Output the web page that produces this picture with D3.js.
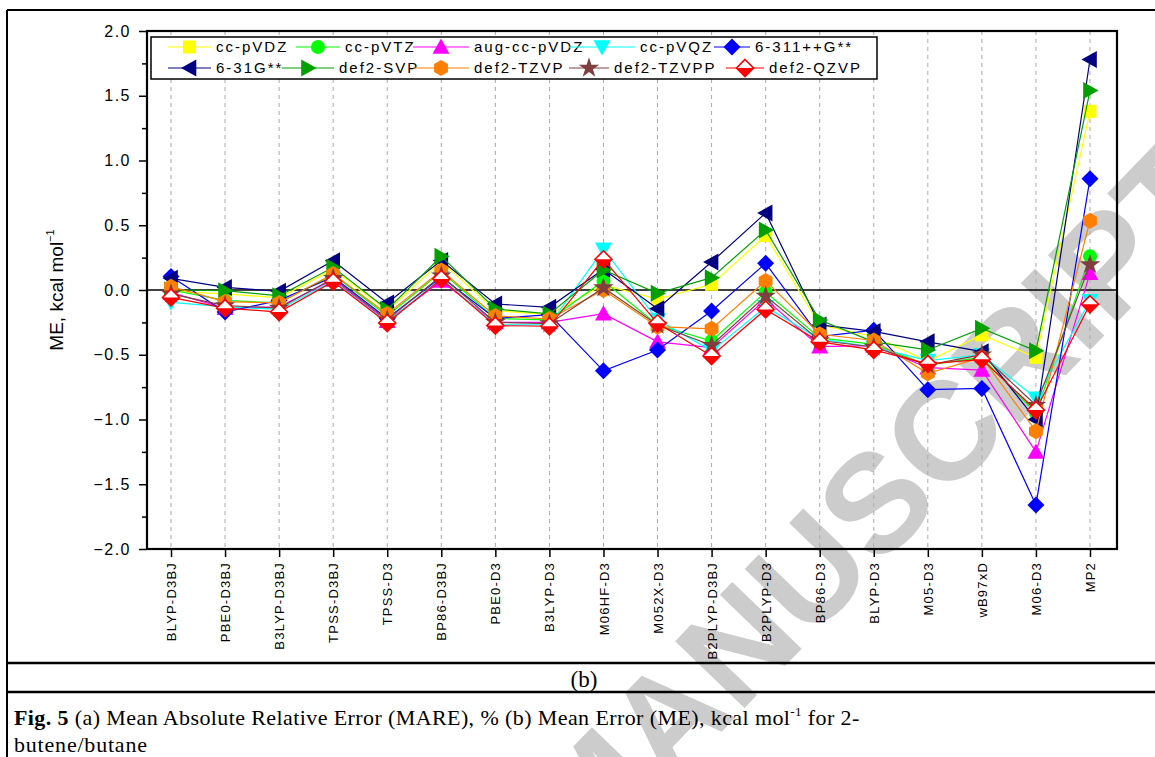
<!DOCTYPE html>
<html><head><meta charset="utf-8">
<script src="https://cdn.jsdelivr.net/npm/d3@7"></script>
<style>body{margin:0;background:#fff}svg{display:block}</style>
</head><body>
<svg id="c" width="1155" height="757"></svg>
<script>
// ---------------- DATA ----------------
const categories = ["BLYP-D3BJ","PBE0-D3BJ","B3LYP-D3BJ","TPSS-D3BJ","TPSS-D3","BP86-D3BJ","PBE0-D3","B3LYP-D3","M06HF-D3","M052X-D3","B2PLYP-D3BJ","B2PLYP-D3","BP86-D3","BLYP-D3","M05-D3","wB97xD","M06-D3","MP2"];
const seriesNames = ["cc-pVDZ","cc-pVTZ","aug-cc-pVDZ","cc-pVQZ","6-311++G**","6-31G**","def2-SVP","def2-TZVP","def2-TZVPP","def2-QZVP"];
const ccpVDZ    = [-0.01,-0.03,-0.06,0.16,-0.16,0.22,-0.16,-0.19,0.04,-0.07,0.044,0.42,-0.27,-0.36,-0.55,-0.347,-0.52,1.38];
const ccpVTZ    = [0.00,-0.08,-0.10,0.12,-0.20,0.14,-0.22,-0.23,0.07,-0.27,-0.394,-0.015,-0.37,-0.42,-0.58,-0.52,-0.95,0.26];
const augccpVDZ = [-0.02,-0.14,-0.13,0.08,-0.24,0.07,-0.25,-0.25,-0.183,-0.40,-0.445,-0.072,-0.437,-0.43,-0.60,-0.618,-1.25,0.13];
const ccpVQZ    = [-0.095,-0.13,-0.15,0.07,-0.25,0.09,-0.27,-0.27,0.314,-0.23,-0.47,-0.13,-0.38,-0.44,-0.545,-0.50,-0.836,-0.083];
const g6311     = [0.105,-0.17,-0.08,0.10,-0.22,0.10,-0.22,-0.19,-0.624,-0.463,-0.162,0.206,-0.36,-0.31,-0.77,-0.76,-1.66,0.86];
const g631      = [0.09,0.02,-0.01,0.226,-0.10,0.227,-0.108,-0.134,0.16,-0.144,0.216,0.595,-0.27,-0.32,-0.40,-0.476,-1.00,1.78];
const def2SVP   = [0.00,-0.005,-0.045,0.175,-0.15,0.26,-0.147,-0.185,0.154,-0.026,0.095,0.463,-0.232,-0.40,-0.463,-0.296,-0.47,1.54];
const def2TZVP  = [0.026,-0.09,-0.10,0.124,-0.185,0.15,-0.20,-0.224,0.00,-0.283,-0.30,0.07,-0.342,-0.39,-0.643,-0.52,-1.09,0.535];
const def2TZVPP = [-0.03,-0.12,-0.14,0.09,-0.23,0.11,-0.25,-0.26,0.018,-0.27,-0.427,-0.046,-0.39,-0.44,-0.58,-0.50,-0.89,0.196];
const def2QZVP  = [-0.057,-0.14,-0.17,0.064,-0.255,0.085,-0.275,-0.28,0.237,-0.257,-0.51,-0.15,-0.40,-0.463,-0.57,-0.535,-0.927,-0.11];
const yTicks = [-2.0,-1.5,-1.0,-0.5,0.0,0.5,1.0,1.5,2.0];
const yMinorTicks = [-1.75,-1.25,-0.75,-0.25,0.25,0.75,1.25,1.75];

// ---------------- STYLE ----------------
const values = [ccpVDZ,ccpVTZ,augccpVDZ,ccpVQZ,g6311,g631,def2SVP,def2TZVP,def2TZVPP,def2QZVP];
const colors = ["#ffff00","#00ff00","#ff00ff","#00ffff","#0000ff","#000080","#00a000","#ff8000","#7f3f3f","#ff0000"];
const shapes = ["square","circle","up","down","diamond","left","right","hex","star","halfdiamond"];
const series = seriesNames.map((n,i)=>({name:n,vals:values[i],color:colors[i],shape:shapes[i]}));

const svg = d3.select("#c");
const L=147,R=1117,T=31,B=549;
const x = d3.scalePoint().domain(categories).range([171,1090]);
const y = d3.scaleLinear().domain([-2,2]).range([B,T]);

svg.append("rect").attr("width",1155).attr("height",757).attr("fill","#fff");

// watermark (clipped to the page)
svg.append("clipPath").attr("id","pg").append("rect").attr("width",1155).attr("height",757);
svg.append("g").attr("clip-path","url(#pg)").append("text").text("ACCEPTED MANUSCRIPT")
  .attr("transform","translate(1235,200) rotate(-46)")
  .attr("text-anchor","end").attr("font-family","Liberation Sans, Arial, sans-serif")
  .attr("font-weight","bold").attr("font-size",140).attr("fill","#cccccc");

// outer borders
const bd = svg.append("g").attr("stroke","#000").attr("stroke-width",2);
bd.append("line").attr("x1",7).attr("x2",7).attr("y1",10).attr("y2",757);
bd.append("line").attr("x1",7).attr("x2",1155).attr("y1",10).attr("y2",10);
bd.append("line").attr("x1",7).attr("x2",1155).attr("y1",663).attr("y2",663).attr("stroke-width",2.5);
bd.append("line").attr("x1",7).attr("x2",1155).attr("y1",692).attr("y2",692).attr("stroke-width",2.5);

// gridlines
svg.append("g").selectAll("line").data(categories).join("line")
  .attr("x1",d=>x(d)).attr("x2",d=>x(d)).attr("y1",T).attr("y2",B)
  .attr("stroke","#aaa").attr("stroke-width",1).attr("stroke-dasharray","4,4");

// zero line
svg.append("line").attr("x1",L).attr("x2",R).attr("y1",y(0)).attr("y2",y(0)).attr("stroke","#000").attr("stroke-width",1.6);

// axes
const yAx = svg.append("g").attr("transform",`translate(${L},0)`)
  .call(d3.axisLeft(y).tickValues(yTicks).tickSize(8).tickPadding(8).tickFormat(d=>d3.format(".1f")(d).replace("-","\u2212")));
yAx.select(".domain").remove();
yAx.selectAll("line").attr("stroke-width",1.5);
yAx.selectAll("text").attr("font-family","Liberation Sans, Arial, sans-serif").attr("font-size",16).attr("letter-spacing","1.5px").attr("fill","#000");
const yMin = svg.append("g").attr("transform",`translate(${L},0)`)
  .call(d3.axisLeft(y).tickValues(yMinorTicks).tickSize(5).tickFormat(""));
yMin.select(".domain").remove();
yMin.selectAll("line").attr("stroke-width",1.5);

const xAx = svg.append("g").attr("transform",`translate(0,${B})`)
  .call(d3.axisBottom(x).tickSize(8).tickPadding(4));
xAx.select(".domain").remove();
xAx.selectAll("line").attr("stroke-width",1.5);
xAx.selectAll("text").attr("font-family","Liberation Sans, Arial, sans-serif").attr("font-size",13)
  .attr("letter-spacing","1.2px").attr("fill","#000")
  .attr("text-anchor","end").attr("transform","rotate(-90)").attr("x",-13).attr("y",0).attr("dy","0.35em");

svg.append("rect").attr("x",L).attr("y",T).attr("width",R-L).attr("height",B-T)
  .attr("fill","none").attr("stroke","#000").attr("stroke-width",2.2);

// y title
const yt = svg.append("text").attr("transform",`translate(63,${y(0)}) rotate(-90)`).attr("text-anchor","middle")
  .attr("font-family","Liberation Sans, Arial, sans-serif").attr("font-size",19).attr("fill","#000");
yt.append("tspan").text("ME, kcal mol");
yt.append("tspan").text("\u22121").attr("font-size",11).attr("dy",-9);

// marker drawing
function hexPath(r){const p=[];for(let k=0;k<6;k++){const a=Math.PI/3*k+Math.PI/6;p.push([r*Math.cos(a),r*Math.sin(a)]);}return "M"+p.map(q=>q.join(",")).join("L")+"Z";}
function triPath(dir,s){
  if(dir==="up") return `M0,${-s}L${s},${s*0.8}L${-s},${s*0.8}Z`;
  if(dir==="down") return `M0,${s}L${s},${-s*0.8}L${-s},${-s*0.8}Z`;
  if(dir==="left") return `M${-s},0L${s*0.8},${-s}L${s*0.8},${s}Z`;
  return `M${s},0L${-s*0.8},${-s}L${-s*0.8},${s}Z`;
}
function drawMarker(g,shape,color){
  if(shape==="square") g.append("rect").attr("x",-6.5).attr("y",-6.5).attr("width",13).attr("height",13).attr("fill",color);
  else if(shape==="circle") g.append("circle").attr("r",7).attr("fill",color);
  else if(["up","down","left","right"].includes(shape)) g.append("path").attr("d",triPath(shape,8.5)).attr("fill",color);
  else if(shape==="diamond") g.append("path").attr("d","M0,-8.5L8.5,0L0,8.5L-8.5,0Z").attr("fill",color);
  else if(shape==="hex") g.append("path").attr("d",hexPath(8)).attr("fill",color);
  else if(shape==="star") g.append("path").attr("d",d3.symbol(d3.symbolStar,130)()).attr("fill",color);
  else if(shape==="halfdiamond"){
    g.append("path").attr("d","M0,-8.5L8.5,0L0,8.5L-8.5,0Z").attr("fill","#fff");
    g.append("path").attr("d","M-8.5,0L8.5,0L0,8.5Z").attr("fill",color);
    g.append("path").attr("d","M0,-8.5L8.5,0L0,8.5L-8.5,0Z").attr("fill","none").attr("stroke",color).attr("stroke-width",1.6);
  }
}

// series
const line = d3.line().x((d,i)=>x(categories[i])).y(d=>y(d));
series.forEach(s=>{
  const g = svg.append("g");
  g.append("path").attr("d",line(s.vals)).attr("fill","none").attr("stroke",s.color).attr("stroke-width",1.2);
  s.vals.forEach((v,i)=>{
    const m = g.append("g").attr("transform",`translate(${x(categories[i])},${y(v)})`);
    drawMarker(m,s.shape,s.color);
  });
});

// legend
const lg = svg.append("g");
lg.append("rect").attr("x",151).attr("y",37).attr("width",726).attr("height",42).attr("fill","#fff").attr("stroke","#000").attr("stroke-width",1.5);
const legX = [[168,296,413,569,714],[168,282,413,569,726]];
const legW = [[43,44,56,66,36],[43,52,56,40,38]];
series.forEach((s,i)=>{
  const row = Math.floor(i/5), col = i%5;
  const x0 = legX[row][col], w = legW[row][col], yy = row===0?47:68;
  lg.append("line").attr("x1",x0).attr("x2",x0+w).attr("y1",yy).attr("y2",yy).attr("stroke",s.color).attr("stroke-width",1.2);
  const m = lg.append("g").attr("transform",`translate(${x0+w/2},${yy})`);
  drawMarker(m,s.shape,s.color);
  lg.append("text").attr("x",x0+w+5).attr("y",yy).attr("dy","0.36em").text(s.name)
    .attr("font-family","Liberation Sans, Arial, sans-serif").attr("font-size",15).attr("letter-spacing","2px").attr("fill","#000");
});

// captions
svg.append("text").attr("x",584).attr("y",687).attr("text-anchor","middle").text("(b)")
  .attr("font-family","Liberation Serif, Times New Roman, serif").attr("font-size",23).attr("fill","#000");
const cap = svg.append("text").attr("x",14).attr("y",725).attr("font-family","Liberation Serif, Times New Roman, serif").attr("font-size",22).attr("letter-spacing","0.4px").attr("fill","#000");
cap.append("tspan").text("Fig. 5").attr("font-weight","bold");
cap.append("tspan").text(" (a) Mean Absolute Relative Error (MARE), % (b) Mean Error (ME), kcal mol");
cap.append("tspan").text("-1").attr("font-size",13).attr("dy",-9);
cap.append("tspan").text(" for 2-").attr("dy",9);
svg.append("text").attr("x",14).attr("y",752).text("butene/butane").attr("font-family","Liberation Serif, Times New Roman, serif").attr("font-size",22).attr("letter-spacing","0.8px").attr("fill","#000");
</script>
</body></html>
